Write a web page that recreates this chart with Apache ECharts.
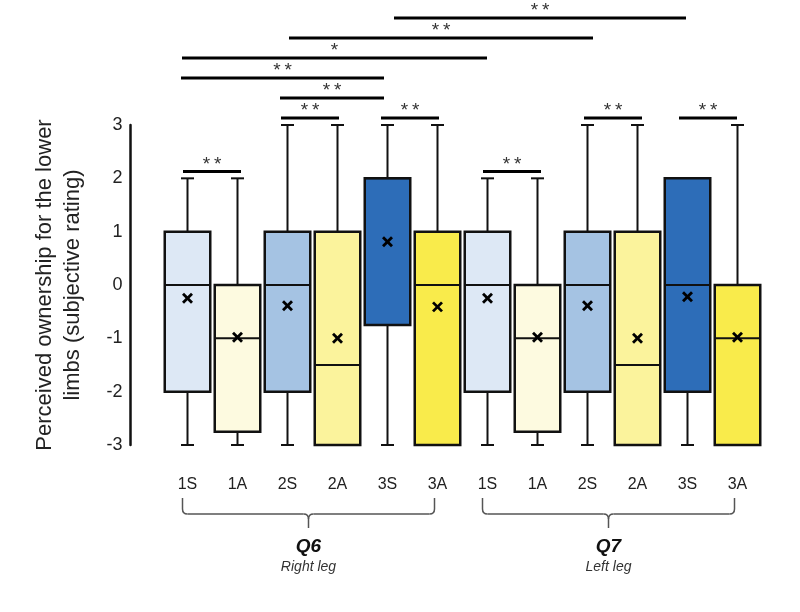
<!DOCTYPE html>
<html><head><meta charset="utf-8">
<script src="https://cdn.jsdelivr.net/npm/echarts@6/dist/echarts.min.js"></script>
<style>html,body{margin:0;padding:0;background:#fff}#c{width:800px;height:612px}</style>
</head><body><div id="c"></div>
<script>
// ---- data ----
const categories = ['1S','1A','2S','2A','3S','3A','1S','1A','2S','2A','3S','3A'];
const mins    = [-3, -3,    -3, -3,   -3,    -3,  -3, -3,    -3, -3,   -3, -3];
const q1s     = [-2, -2.75, -2, -3,   -0.75, -3,  -2, -2.75, -2, -3,   -2, -3];
const medians = [ 0, -1,     0, -1.5,  2,     0,   0, -1,     0, -1.5,  0, -1];
const q3s     = [ 1,  0,     1,  1,    2,     1,   1,  0,     1,  1,    2,  0];
const maxs    = [ 2,  2,     3,  3,    3,     3,   2,  2,     3,  3,    2,  3];
const means   = [-0.25, -0.98, -0.39, -1.0, 0.81, -0.41, -0.25, -0.98, -0.39, -1.0, -0.22, -0.98];

// significance annotations (category index span, label, stacking level)
const sigFrom   = [-0.09, 5.91, 1.87, 3.87, 7.93, 9.83, 1.85, -0.13, -0.11, 2.03, 4.13];
const sigTo     = [ 1.07, 7.07, 3.03, 5.03, 9.09, 10.99, 3.93, 3.93, 5.99, 8.11, 9.97];
const sigLabels = ['**','**','**','**','**','**','**','**','*','**','**'];
const sigLevels = [0,0,0,0,0,0,1,2,3,4,5];

// group braces
const groupNames = ['Q6','Q7'];
const groupSubs  = ['Right leg','Left leg'];
const groupFrom  = [0, 6];
const groupTo    = [5, 11];

// ---- styles ----
const fills = ['#dde8f5','#fdfae0','#a5c3e3','#fbf39c','#2d6db8','#f9eb4b',
               '#dde8f5','#fdfae0','#a5c3e3','#fbf39c','#2d6db8','#f9eb4b'];
const FONT = '"Liberation Sans", Arial, sans-serif';

const chart = echarts.init(document.getElementById('c'), null, {renderer: 'canvas'});

function boxItem(params, api) {
  const i = params.dataIndex;
  const band = api.size([1, 0])[0];
  const cx = api.coord([i, 0])[0];
  const y = v => api.coord([i, v])[1];
  const bw = band * 0.91;
  const cap = 13;
  const ls = {stroke: '#111', lineWidth: 2};
  const ch = [];
  ch.push({type: 'line', shape: {x1: cx, y1: y(maxs[i]), x2: cx, y2: y(q3s[i])}, style: ls});
  ch.push({type: 'line', shape: {x1: cx, y1: y(q1s[i]), x2: cx, y2: y(mins[i])}, style: ls});
  ch.push({type: 'line', shape: {x1: cx - cap/2, y1: y(maxs[i]), x2: cx + cap/2, y2: y(maxs[i])}, style: ls});
  ch.push({type: 'line', shape: {x1: cx - cap/2, y1: y(mins[i]), x2: cx + cap/2, y2: y(mins[i])}, style: ls});
  ch.push({type: 'rect', shape: {x: cx - bw/2, y: y(q3s[i]), width: bw, height: y(q1s[i]) - y(q3s[i])},
           style: {fill: fills[i], stroke: '#111', lineWidth: 2.5}});
  ch.push({type: 'line', shape: {x1: cx - bw/2, y1: y(medians[i]), x2: cx + bw/2, y2: y(medians[i])},
           style: {stroke: '#111', lineWidth: 2}});
  const my = y(means[i]), s = 4.5;
  ch.push({type: 'line', shape: {x1: cx - s, y1: my - s, x2: cx + s, y2: my + s}, style: {stroke: '#000', lineWidth: 2.8}});
  ch.push({type: 'line', shape: {x1: cx - s, y1: my + s, x2: cx + s, y2: my - s}, style: {stroke: '#000', lineWidth: 2.8}});
  return {type: 'group', children: ch};
}

function sigItem(params, api) {
  const k = params.dataIndex;
  const band = api.size([1, 0])[0];
  const x0 = api.coord([0, 0])[0];
  const lo = Math.max(0, Math.round(sigFrom[k])), hi = Math.min(11, Math.round(sigTo[k]));
  let top = -Infinity;
  for (let j = lo; j <= hi; j++) top = Math.max(top, maxs[j]);
  const yv = top + 0.13 + sigLevels[k] * 0.375;
  const py = api.coord([0, yv])[1];
  const xa = x0 + sigFrom[k] * band, xb = x0 + sigTo[k] * band;
  return {type: 'group', children: [
    {type: 'line', shape: {x1: xa, y1: py, x2: xb, y2: py}, style: {stroke: '#000', lineWidth: 3}},
    {type: 'text', x: (xa + xb) / 2, y: py - 7,
     style: {text: sigLabels[k].split('').join('\u2009'), fill: '#333', font: '19px ' + FONT, align: 'center', verticalAlign: 'middle'}}
  ]};
}

function braceItem(params, api) {
  const g = params.dataIndex;
  const xa = api.coord([groupFrom[g], 0])[0] - 5;
  const xb = api.coord([groupTo[g], 0])[0] - 3;
  const base = api.coord([0, -3])[1];
  const y0 = base + 53, y1 = base + 69, y2 = base + 83;
  const xm = (xa + xb) / 2;
  const r = 5;
  const st = {stroke: '#555', lineWidth: 1.5, fill: null};
  return {type: 'group', children: [
    {type: 'polyline', shape: {points: [[xa, y0], [xa, y1 - r]]}, style: st},
    {type: 'bezierCurve', shape: {x1: xa, y1: y1 - r, x2: xa + r, y2: y1, cpx1: xa, cpy1: y1}, style: st},
    {type: 'polyline', shape: {points: [[xa + r, y1], [xm - r, y1]]}, style: st},
    {type: 'bezierCurve', shape: {x1: xm - r, y1: y1, x2: xm, y2: y1 + r, cpx1: xm, cpy1: y1}, style: st},
    {type: 'bezierCurve', shape: {x1: xm + r, y1: y1, x2: xm, y2: y1 + r, cpx1: xm, cpy1: y1}, style: st},
    {type: 'polyline', shape: {points: [[xm, y1 + r], [xm, y2]]}, style: st},
    {type: 'polyline', shape: {points: [[xm + r, y1], [xb - r, y1]]}, style: st},
    {type: 'bezierCurve', shape: {x1: xb - r, y1: y1, x2: xb, y2: y1 - r, cpx1: xb, cpy1: y1}, style: st},
    {type: 'polyline', shape: {points: [[xb, y1 - r], [xb, y0]]}, style: st},
    {type: 'text', x: xm, y: base + 102,
     style: {text: groupNames[g], fill: '#111', font: 'italic bold 19px ' + FONT, align: 'center', verticalAlign: 'middle'}},
    {type: 'text', x: xm, y: base + 122,
     style: {text: groupSubs[g], fill: '#333', font: 'italic 14px ' + FONT, align: 'center', verticalAlign: 'middle'}}
  ]};
}

chart.setOption({
  animation: false,
  backgroundColor: '#fff',
  grid: {left: 162.5, right: 37.5, top: 125, bottom: 167},
  xAxis: {
    type: 'category', data: categories,
    axisLine: {show: false}, axisTick: {show: false}, splitLine: {show: false},
    axisLabel: {margin: 32, fontSize: 16, color: '#222', fontFamily: FONT, interval: 0}
  },
  yAxis: {
    type: 'value', min: -3, max: 3, interval: 1, offset: 32,
    axisLine: {show: true, lineStyle: {color: '#111', width: 2.5}},
    axisTick: {show: false}, splitLine: {show: false},
    axisLabel: {fontSize: 18, color: '#222', fontFamily: FONT, margin: 8},
    name: 'Perceived ownership for the lower\nlimbs (subjective rating)',
    nameLocation: 'middle', nameGap: 44,
    nameTextStyle: {fontSize: 22, lineHeight: 28, color: '#222', fontFamily: FONT}
  },
  series: [
    {type: 'custom', renderItem: boxItem, clip: false,
     data: categories.map((c, i) => [i, mins[i], q1s[i], medians[i], q3s[i], maxs[i], means[i]]),
     encode: {x: 0, y: [1, 2, 3, 4, 5, 6]}, z: 2},
    {type: 'custom', renderItem: sigItem, clip: false,
     data: sigFrom.map(() => [0, 0]), encode: {x: 0, y: 1}, z: 3},
    {type: 'custom', renderItem: braceItem, clip: false,
     data: groupNames.map(() => [0, 0]), encode: {x: 0, y: 1}, z: 3}
  ]
});
</script>
</body></html>
